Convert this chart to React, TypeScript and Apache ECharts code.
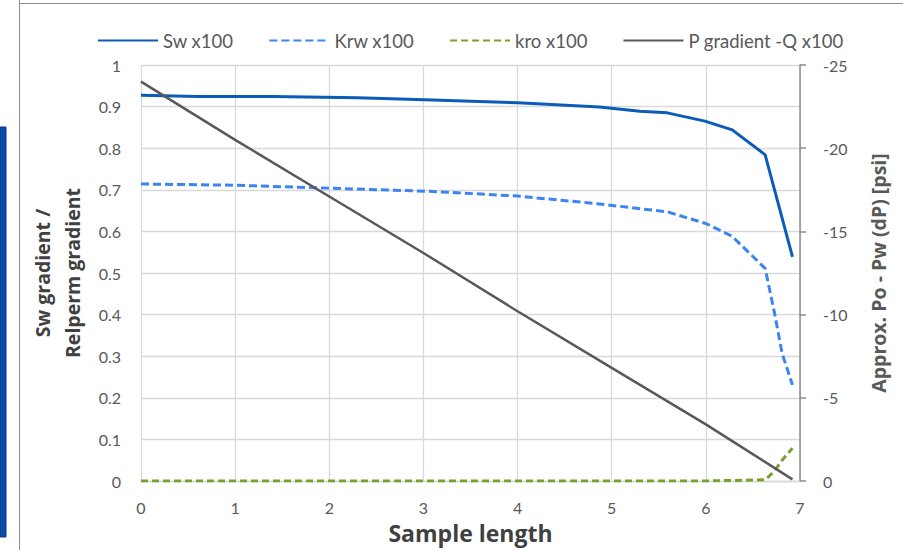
import React, { useEffect, useRef } from "react";
import * as echarts from "echarts";

// ---- data ----
const swX = [0, 0.6, 1.4, 2.3, 3.1, 4.0, 4.87, 5.3, 5.59, 5.99, 6.28, 6.63, 6.92];
const swY = [0.927, 0.924, 0.924, 0.921, 0.916, 0.909, 0.899, 0.889, 0.885, 0.865, 0.844, 0.784, 0.539];

const krwX = [0, 1.0, 2.0, 3.1, 4.0, 4.87, 5.59, 6.0, 6.28, 6.63, 6.73, 6.81, 6.92];
const krwY = [0.714, 0.711, 0.704, 0.696, 0.685, 0.666, 0.647, 0.619, 0.588, 0.511, 0.403, 0.307, 0.231];

const kroX = [0, 1, 2, 3, 4, 5, 6, 6.63, 6.73, 6.81, 6.92];
const kroY = [0, 0, 0, 0, 0, 0, 0, 0.003, 0.024, 0.05, 0.079];

const pX = [0, 1, 2, 3, 4, 5, 6, 6.92];
const pY = [-24.0, -20.5, -17.1, -13.7, -10.2, -6.8, -3.4, -0.1];

const seriesNames = ["Sw x100", "Krw x100", "kro x100", "P gradient -Q x100"];

const xAxisTitle = "Sample length";
const leftAxisTitle = "Sw gradient /\nRelperm gradient";
const rightAxisTitle = "Approx. Po - Pw (dP) [psi]";

const pairs = (xs: number[], ys: number[]) => xs.map((x, i) => [x, ys[i]]);

const FONT = "Lato, 'Noto Sans', sans-serif";
const TITLE_FONT = "'Open Sans', 'Noto Sans', sans-serif";

export default function App() {
  const ref = useRef<HTMLDivElement>(null);

  useEffect(() => {
    if (!ref.current) return;
    const chart = echarts.init(ref.current, undefined, { renderer: "svg" });
    const gridLine = { show: true, lineStyle: { color: "#d9d9d9", width: 1.3 } };
    chart.setOption({
      animation: false,
      backgroundColor: "#ffffff",
      textStyle: { fontFamily: FONT },
      grid: { left: 141, right: 103, top: 65, bottom: 69, containLabel: false },
      legend: {
        top: 26,
        left: 92,
        itemWidth: 60,
        itemHeight: 14,
        itemGap: 35,
        itemStyle: { opacity: 0 },
        textStyle: { fontSize: 18.5, color: "#595959", fontFamily: FONT },
        data: seriesNames,
      },
      xAxis: {
        type: "value",
        min: 0,
        max: 7,
        interval: 1,
        axisLine: { show: true, lineStyle: { color: "#d9d9d9", width: 1.3 } },
        axisTick: { show: false },
        axisLabel: { color: "#595959", fontSize: 16, margin: 18 },
        splitLine: gridLine,
        name: xAxisTitle,
        nameLocation: "middle",
        nameGap: 40,
        nameTextStyle: {
          fontSize: 23,
          fontWeight: "bold",
          color: "#404040",
          verticalAlign: "top",
          fontFamily: TITLE_FONT,
        },
      },
      yAxis: [
        {
          type: "value",
          min: 0,
          max: 1,
          interval: 0.1,
          axisLine: { show: false },
          axisTick: { show: false },
          axisLabel: { color: "#595959", fontSize: 16, margin: 20 },
          splitLine: gridLine,
          name: leftAxisTitle,
          nameLocation: "middle",
          nameRotate: 90,
          nameGap: 51,
          nameTextStyle: {
            fontSize: 19.5,
            fontWeight: "bold",
            color: "#404040",
            lineHeight: 30,
            fontFamily: TITLE_FONT,
          },
        },
        {
          type: "value",
          min: -25,
          max: 0,
          interval: 5,
          inverse: true,
          position: "right",
          axisLine: { show: true, lineStyle: { color: "#8c8c8c", width: 1.5 } },
          axisTick: { show: true, inside: false, length: 6, lineStyle: { color: "#8c8c8c", width: 1.5 } },
          axisLabel: { color: "#595959", fontSize: 16, margin: 23 },
          splitLine: { show: false },
          name: rightAxisTitle,
          nameLocation: "middle",
          nameRotate: 90,
          nameGap: 68,
          nameTextStyle: {
            fontSize: 19.5,
            fontWeight: "bold",
            color: "#595959",
            fontFamily: TITLE_FONT,
          },
        },
      ],
      series: [
        {
          name: seriesNames[0],
          type: "line",
          data: pairs(swX, swY),
          symbol: "none",
          lineStyle: { color: "#0b5cb8", width: 3 },
          itemStyle: { color: "#0b5cb8" },
          z: 4,
        },
        {
          name: seriesNames[1],
          type: "line",
          data: pairs(krwX, krwY),
          symbol: "none",
          lineStyle: { color: "#3d84f2", width: 3, type: [8, 4] },
          itemStyle: { color: "#3d84f2" },
          z: 3,
        },
        {
          name: seriesNames[2],
          type: "line",
          data: pairs(kroX, kroY),
          symbol: "none",
          lineStyle: { color: "#78a22c", width: 3, type: [7, 4] },
          itemStyle: { color: "#78a22c" },
          z: 2,
        },
        {
          name: seriesNames[3],
          type: "line",
          yAxisIndex: 1,
          data: pairs(pX, pY),
          symbol: "none",
          lineStyle: { color: "#595959", width: 2.5 },
          itemStyle: { color: "#595959" },
          z: 5,
        },
      ],
      graphic: [
        {
          type: "line",
          shape: { x1: 19.5, y1: 0, x2: 19.5, y2: 550 },
          style: { stroke: "#8c8c8c", lineWidth: 1 },
          silent: true,
        },
        {
          type: "line",
          shape: { x1: 19.5, y1: 3.5, x2: 903, y2: 3.5 },
          style: { stroke: "#8c8c8c", lineWidth: 1 },
          silent: true,
        },
        {
          type: "rect",
          shape: { x: 0, y: 127, width: 6, height: 410 },
          style: { fill: "#0b4aa8", stroke: "#083a80", lineWidth: 1 },
          silent: true,
        },
      ],
    });
    return () => chart.dispose();
  }, []);

  return (
    <div
      ref={ref}
      style={{ position: "absolute", left: 0, top: 0, width: 903, height: 550 }}
    />
  );
}
